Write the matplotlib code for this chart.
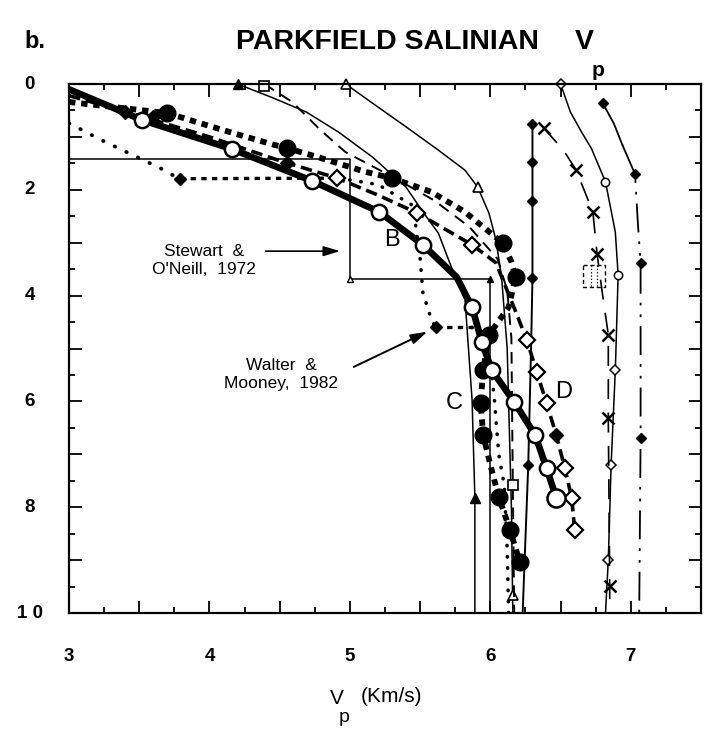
import numpy as np
import matplotlib.pyplot as plt
from matplotlib.patches import Rectangle
from matplotlib.ticker import MultipleLocator

plt.rcParams['font.family'] = ['Liberation Sans', 'DejaVu Sans']

# --- courbes (Vp en km/s, profondeur en km) ---
# trait épais plein, cercles ouverts
thick_v = [3.0, 3.52, 4.16, 4.73, 5.21, 5.52, 5.76, 5.87, 5.94, 6.01, 6.17, 6.32, 6.40, 6.47]
thick_z = [0.1, 0.68, 1.23, 1.83, 2.42, 3.04, 3.65, 4.22, 4.88, 5.41, 6.01, 6.64, 7.26, 7.83]
thick_cv = [3.52, 4.16, 4.73, 5.21, 5.52, 5.87, 5.94, 6.01, 6.17, 6.32, 6.40]
thick_cz = [0.68, 1.23, 1.83, 2.42, 3.04, 4.22, 4.88, 5.41, 6.01, 6.64, 7.26]
thick_end_v = [6.47]
thick_end_z = [7.83]

# tirets épais, gros points noirs
dots_v = [3.0, 3.70, 4.02, 4.21, 4.46, 4.55, 4.77, 5.11, 5.30, 5.58, 5.82, 6.09, 6.15, 6.18,
          6.13, 5.99, 5.95, 5.93, 5.95, 6.00, 6.06, 6.14, 6.21]
dots_z = [0.34, 0.55, 0.81, 0.96, 1.15, 1.21, 1.38, 1.66, 1.78, 2.04, 2.42, 3.01, 3.36, 3.65,
          4.22, 4.74, 5.41, 6.03, 6.64, 7.20, 7.81, 8.43, 9.04]
dots_mv = [3.70, 4.55, 5.30, 6.09, 6.18, 5.99, 5.95, 5.93, 5.95, 6.06, 6.14, 6.21]
dots_mz = [0.55, 1.21, 1.78, 3.01, 3.65, 4.74, 5.41, 6.03, 6.64, 7.81, 8.43, 9.04]

# tirets moyens, losanges (courbe D)
dcurve_v = [3.0, 3.4, 4.0, 4.5, 4.91, 5.2, 5.48, 5.87, 6.04, 6.18, 6.26, 6.33, 6.40, 6.47, 6.53, 6.58, 6.60]
dcurve_z = [0.22, 0.52, 1.0, 1.45, 1.78, 2.1, 2.44, 3.04, 3.38, 4.3, 4.84, 5.44, 6.03, 6.64, 7.26, 7.83, 8.43]
dcurve_ov = [4.91, 5.48, 5.87, 6.26, 6.33, 6.40, 6.53, 6.58, 6.60]
dcurve_oz = [1.78, 2.44, 3.04, 4.84, 5.44, 6.03, 7.26, 7.83, 8.43]
dcurve_fv = [3.4, 3.6, 4.55, 6.47]
dcurve_fz = [0.52, 0.62, 1.5, 6.64]

# Stewart & O'Neill, 1972
so_v = [3.0, 5.0, 5.0, 6.0, 6.0]
so_z = [1.42, 1.42, 3.68, 3.68, 10.0]

# trait fin, triangles pleins
ta_v = [4.2, 4.45, 4.69, 4.92, 5.16, 5.40, 5.51, 5.63, 5.75, 5.82, 5.87, 5.89, 5.89]
ta_z = [0.0, 0.26, 0.53, 0.91, 1.38, 1.95, 2.38, 2.82, 3.65, 4.08, 5.97, 7.83, 10.0]
ta_mv = [4.2, 5.89]
ta_mz = [0.0, 7.83]

# trait fin, triangles ouverts
tb_v = [4.97, 5.16, 5.40, 5.63, 5.82, 5.91, 5.99, 6.04, 6.08, 6.12, 6.15, 6.16]
tb_z = [0.0, 0.36, 0.81, 1.25, 1.63, 1.95, 2.44, 2.95, 3.65, 5.0, 8.0, 10.0]
tb_mv = [4.97, 5.91, 6.16]
tb_mz = [0.0, 1.95, 9.66]

# tirets longs, carrés
e_v = [4.39, 4.59, 4.79, 4.97, 5.3, 5.6, 5.85, 6.05, 6.12, 6.15, 6.16, 6.17]
e_z = [0.0, 0.34, 0.87, 1.29, 1.75, 2.2, 2.7, 3.3, 3.9, 4.8, 7.58, 10.0]
e_mv = [4.39, 6.16]
e_mz = [0.03, 7.58]

# ligne verticale, petits losanges pleins
h_v = [6.30, 6.30, 6.29, 6.27, 6.23]
h_z = [0.75, 3.67, 5.0, 7.2, 10.0]
h_mv = [6.30, 6.30, 6.30, 6.30, 6.27]
h_mz = [0.75, 1.48, 2.21, 3.67, 7.2]

# trait fin, losange ouvert en haut
tc_v = [6.50, 6.57, 6.65, 6.72, 6.82, 6.89, 6.91, 6.89, 6.86, 6.84, 6.82]
tc_z = [0.0, 0.53, 0.91, 1.22, 1.85, 2.8, 3.61, 5.41, 7.2, 9.0, 10.0]
tc_cv = [6.82, 6.91]
tc_cz = [1.85, 3.61]
tc_dv = [6.50, 6.89, 6.86, 6.84]
tc_dz = [0.0, 5.41, 7.2, 9.0]

# tirets avec croix
x_v = [6.38, 6.52, 6.61, 6.73, 6.76, 6.80, 6.84, 6.84, 6.85, 6.85]
x_z = [0.83, 1.25, 1.62, 2.42, 3.21, 4.0, 4.74, 6.32, 9.49, 10.0]
x_mv = [6.38, 6.61, 6.73, 6.76, 6.84, 6.84, 6.85]
x_mz = [0.83, 1.62, 2.42, 3.21, 4.74, 6.32, 9.49]

# trait-point-point, losanges pleins (à droite)
g1_v = [6.80, 6.88, 6.94]
g1_z = [0.36, 0.75, 1.15]
g2_v = [6.94, 7.03, 7.05, 7.07, 7.07, 7.06]
g2_z = [1.15, 1.70, 2.61, 3.38, 6.69, 10.0]
g_mv = [6.80, 7.03, 7.07, 7.07]
g_mz = [0.36, 1.70, 3.38, 6.69]

# Walter & Mooney, 1982
wm1_v = [3.0, 3.2, 3.38, 3.65, 3.79]
wm1_z = [0.74, 1.02, 1.25, 1.59, 1.80]
wm2_v = [3.79, 4.92]
wm2_z = [1.79, 1.78]
wm3_v = [4.92, 5.2, 5.45, 5.50, 5.52, 5.58, 5.61]
wm3_z = [1.78, 1.9, 2.3, 3.3, 3.95, 4.45, 4.6]
wm4_v = [5.61, 5.87]
wm4_z = [4.6, 4.6]
wm5_v = [5.87, 6.0, 6.03, 6.06, 6.1, 6.12, 6.13]
wm5_z = [4.6, 5.2, 6.0, 7.0, 7.6, 8.8, 10.0]
wm_mv = [3.79, 5.61]
wm_mz = [1.80, 4.6]

# petit cadre pointillé
box_v = [6.66, 6.82]
box_z = [3.42, 3.84]
box_in_v = [6.72, 6.76]

ytick_vals = [0, 2, 4, 6, 8, 10]
ytick_labs = ['0', '2', '4', '6', '8', '1 0']
xtick_vals = [3, 4, 5, 6, 7]

fig = plt.figure(figsize=(7.12, 7.33), dpi=100)
ax = fig.add_axes([69 / 712, 1 - 613 / 733, (701 - 69) / 712, (613 - 84) / 733])

k = 'black'
thin = 1.1

ax.plot(so_v, so_z, color=k, lw=thin)
ax.plot([5.0], [3.68], marker='^', ms=5, mfc='white', mec=k, color=k, ls='none')
ax.plot([6.0], [3.68], marker='^', ms=5, color=k, ls='none')

ax.plot(ta_v, ta_z, color=k, lw=thin)
ax.plot(ta_mv, ta_mz, '^', color=k, ms=7, clip_on=False)

ax.plot(tb_v, tb_z, color=k, lw=thin)
ax.plot(tb_mv, tb_mz, '^', mfc='white', mec=k, ms=7, mew=1.2, clip_on=False)

ax.plot(e_v, e_z, color=k, lw=1.4, dashes=(6, 4))
ax.plot(e_mv, e_mz, 's', mfc='white', mec=k, ms=7, mew=1.2, clip_on=False)

ax.plot(h_v, h_z, color=k, lw=1.4)
ax.plot(h_mv, h_mz, 'D', color=k, ms=5)

ax.plot(tc_v, tc_z, color=k, lw=thin)
ax.plot(tc_cv, tc_cz, 'o', mfc='white', mec=k, ms=6, mew=1.1)
ax.plot(tc_dv, tc_dz, 'D', mfc='white', mec=k, ms=5, mew=1.1, clip_on=False)

ax.plot(x_v, x_z, color=k, lw=1.2, dashes=(12, 8))
ax.plot(x_mv, x_mz, 'x', color=k, ms=8, mew=1.8)

ax.plot(g1_v, g1_z, color=k, lw=1.3)
ax.plot(g2_v, g2_z, color=k, lw=1.3, dashes=(16, 5, 1.5, 5, 1.5, 5))
ax.plot(g_mv, g_mz, 'D', color=k, ms=5.5)

ax.plot(wm1_v, wm1_z, color=k, lw=2.8, ls=(0, (0.1, 3.2)), dash_capstyle='round')
ax.plot(wm2_v, wm2_z, color=k, lw=2.4, dashes=(1.6, 1.6))
ax.plot(wm3_v, wm3_z, color=k, lw=2.6, ls=(0, (0.1, 3.0)), dash_capstyle='round')
ax.plot(wm4_v, wm4_z, color=k, lw=2.4, dashes=(1.6, 1.6))
ax.plot(wm5_v, wm5_z, color=k, lw=2.6, ls=(0, (0.1, 3.0)), dash_capstyle='round')
ax.plot(wm_mv, wm_mz, 'D', color=k, ms=6)

ax.add_patch(Rectangle((box_v[0], box_z[0]), box_v[1] - box_v[0], box_z[1] - box_z[0],
                       fill=False, ec=k, lw=1.0, ls=(0, (3, 2))))
for bv in box_in_v:
    ax.plot([bv, bv], box_z, color=k, lw=0.9, ls=':')

ax.plot(dcurve_v, dcurve_z, color=k, lw=2.6, dashes=(3.2, 1.6))
ax.plot(dcurve_ov, dcurve_oz, 'D', mfc='white', mec=k, ms=8, mew=1.6)
ax.plot(dcurve_fv, dcurve_fz, 'D', color=k, ms=7)

ax.plot(dots_v, dots_z, color=k, lw=4.2, dashes=(1.1, 1.0))
ax.plot(dots_mv, dots_mz, 'o', color=k, ms=12)

ax.plot(thick_v, thick_z, color=k, lw=4.8, solid_capstyle='butt')
ax.plot(thick_cv, thick_cz, 'o', mfc='white', mec=k, ms=11, mew=1.8)
ax.plot(thick_end_v, thick_end_z, 'o', mfc='white', mec=k, ms=13, mew=1.8)

# textes et flèches
ax.text(3.96, 3.34, "Stewart  &\nO'Neill,  1972", ha='center', va='center',
        fontsize=12.5, linespacing=1.25)
ax.annotate('', xy=(4.95, 3.16), xytext=(4.38, 3.16),
            arrowprops=dict(arrowstyle='-|>,head_length=1.0,head_width=0.3', color=k, lw=1.2))
ax.text(4.51, 5.5, "Walter  &\nMooney,  1982", ha='center', va='center',
        fontsize=12.5, linespacing=1.25)
ax.annotate('', xy=(5.57, 4.66), xytext=(5.01, 5.37),
            arrowprops=dict(arrowstyle='-|>,head_length=1.0,head_width=0.3', color=k, lw=1.4))
ax.text(5.30, 2.95, 'B', fontsize=17, ha='center', va='center')
ax.text(5.74, 6.03, 'C', fontsize=17, ha='center', va='center')
ax.text(6.52, 5.82, 'D', fontsize=17, ha='center', va='center')

ax.set_xlim(3, 7.5)
ax.set_ylim(10, 0)
ax.xaxis.set_major_locator(MultipleLocator(0.5))
ax.xaxis.set_minor_locator(MultipleLocator(0.25))
ax.yaxis.set_major_locator(MultipleLocator(1))
ax.yaxis.set_minor_locator(MultipleLocator(0.5))
ax.tick_params(which='both', direction='in', top=True, right=True, width=1.3,
               labelbottom=False, labelleft=False)
ax.tick_params(which='major', length=9)
ax.tick_params(which='minor', length=4.5)
for sp in ax.spines.values():
    sp.set_linewidth(1.6)

for xv in xtick_vals:
    ax.text(xv, 10.82, str(xv), ha='center', va='center', fontsize=13.5, fontweight='bold')
for yv, yl in zip(ytick_vals, ytick_labs):
    ax.text(2.72, yv, yl, ha='center', va='center', fontsize=13.5, fontweight='bold')

fig.text(337 / 712, 1 - 699 / 733, 'V', ha='center', va='center', fontsize=15)
fig.text(344 / 712, 1 - 717 / 733, 'p', ha='center', va='center', fontsize=14)
fig.text(392 / 712, 1 - 697 / 733, '(Km/s)', ha='center', va='center', fontsize=15)

fig.text(24 / 712, 1 - 42 / 733, 'b.', ha='left', va='center', fontsize=17, fontweight='bold')
fig.text(236 / 712, 1 - 42 / 733, 'PARKFIELD SALINIAN', ha='left', va='center',
         fontsize=20.5, fontweight='bold')
fig.text(584 / 712, 1 - 42 / 733, 'V', ha='center', va='center',
         fontsize=20.5, fontweight='bold')
fig.text(598 / 712, 1 - 71 / 733, 'p', ha='center', va='center', fontsize=15, fontweight='bold')

fig.savefig('out.png', dpi=100)
